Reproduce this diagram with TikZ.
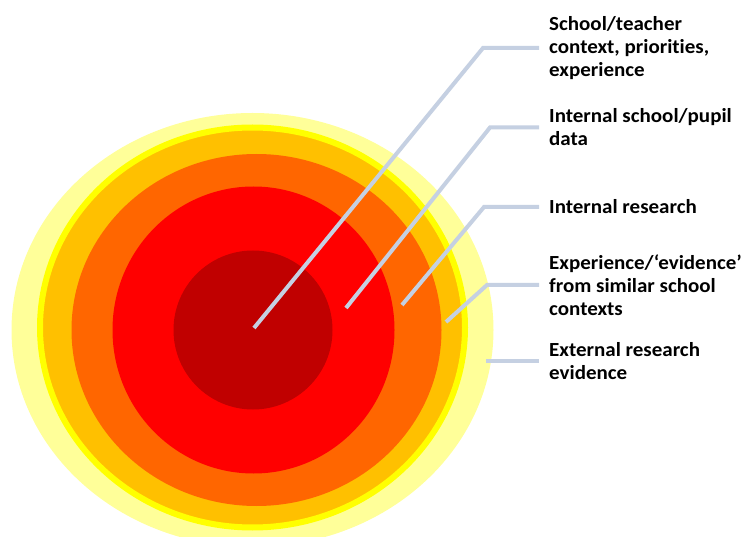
\documentclass[tikz,border=0pt]{standalone}
\usepackage{fontspec}
\setmainfont{Carlito}[Ligatures={TeX,NoCommon},FakeStretch=1.05]

\definecolor{paleyellow}{HTML}{FFFF99}
\definecolor{ringyellow}{HTML}{FFFF00}
\definecolor{gold}{HTML}{FFC000}
\definecolor{deeporange}{HTML}{FF6600}
\definecolor{brightred}{HTML}{FF0000}
\definecolor{darkred}{HTML}{C00000}
\definecolor{calloutblue}{HTML}{C5D0E2}

\tikzset{
  callout/.style={draw=calloutblue,line width=4pt},
  lab/.style={anchor=west,align=left,inner xsep=10pt,inner ysep=0pt,
    font=\fontsize{20}{23}\selectfont\bfseries}
}

\begin{document}
\begin{tikzpicture}[x=1pt,y=-1pt]
  \clip (0,0) rectangle (742,537);
  \fill[white] (0,0) rectangle (742,537);

  \fill[paleyellow] (252.5,330) ellipse (241 and 217);
  \filldraw[fill=gold,draw=ringyellow,line width=6pt] (252.5,327.5) ellipse (212.5 and 200);
  \fill[deeporange] (256.5,330) ellipse (185 and 176);
  \fill[brightred] (253.5,330) ellipse (141 and 143.5);
  \fill[darkred] (253,330) circle (79.5);

  \coordinate (c1) at (254,328);
  \coordinate (c2) at (346,308);
  \coordinate (c3) at (402,305);
  \coordinate (c4) at (446,322);
  \coordinate (c5) at (486,361);

  \coordinate (e1) at (483,48);
  \coordinate (e2) at (490,127.5);
  \coordinate (e3) at (484,207);
  \coordinate (e4) at (487,285);

  \node[lab] (l1) at (539,48) {School/teacher\\context, priorities,\\experience};
  \node[lab] (l2) at (539,127.5) {Internal school/pupil\\data};
  \node[lab] (l3) at (539,207) {Internal research};
  \node[lab] (l4) at (539,285) {Experience/`evidence'\\from similar school\\contexts};
  \node[lab] (l5) at (539,361) {External research\\evidence};

  \draw[callout] (c1) -- (e1) -- (l1.west);
  \draw[callout] (c2) -- (e2) -- (l2.west);
  \draw[callout] (c3) -- (e3) -- (l3.west);
  \draw[callout] (c4) -- (e4) -- (l4.west);
  \draw[callout] (c5) -- (l5.west);
\end{tikzpicture}
\end{document}
